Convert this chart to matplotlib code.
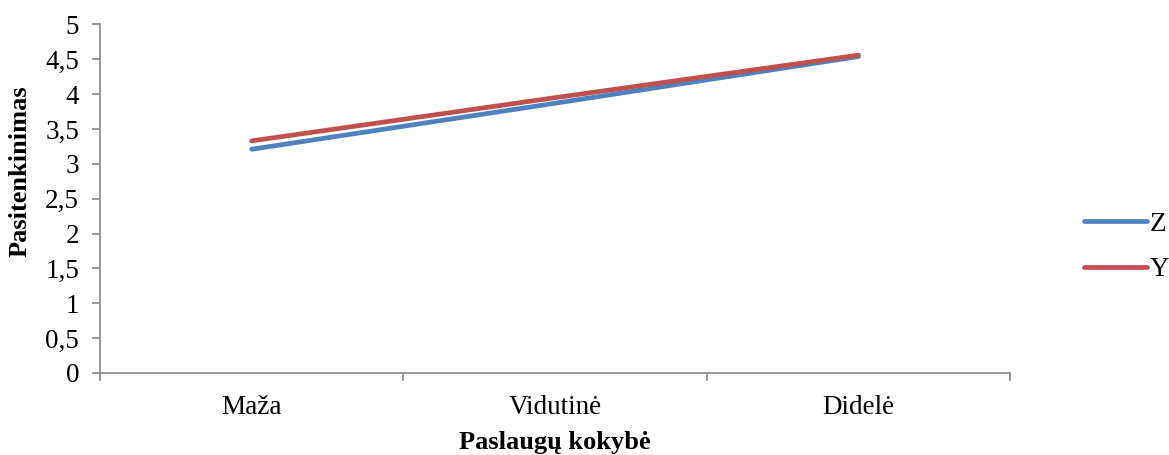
import matplotlib
matplotlib.use("Agg")
import matplotlib.pyplot as plt

# data
categories = ['Maža', 'Vidutinė', 'Didelė']
z_values = [3.21, 3.87, 4.54]
y_values = [3.33, 3.95, 4.56]
y_ticks = [0, 0.5, 1, 1.5, 2, 2.5, 3, 3.5, 4, 4.5, 5]

plt.rcParams['font.family'] = ['Liberation Serif', 'DejaVu Serif']

fig = plt.figure(figsize=(11.69, 4.55), dpi=100)
ax = fig.add_axes([100 / 1169, 82 / 455, 910 / 1169, 348.5 / 455])

x = list(range(len(categories)))
ax.plot(x, z_values, color='#4F81BD', lw=3.4, solid_capstyle='round', label='Z')
ax.plot(x, y_values, color='#C0504D', lw=3.4, solid_capstyle='round', label='Y')

ax.set_xlim(-0.5, len(categories) - 0.5)
ax.set_ylim(0, 5)
ax.set_yticks(y_ticks)
ax.set_yticklabels([str(t).replace('.', ',') if t % 1 else str(int(t)) for t in y_ticks])
ax.set_xticks(x)
ax.set_xticklabels(categories)
ax.set_xticks([i - 0.5 for i in range(len(categories) + 1)], minor=True)

for s in ['top', 'right']:
    ax.spines[s].set_visible(False)
for s in ['left', 'bottom']:
    ax.spines[s].set_color('#868686')
    ax.spines[s].set_linewidth(1.2)

ax.tick_params(axis='y', direction='out', length=6, width=1.2, color='#868686', labelsize=19.5, pad=9)
ax.tick_params(axis='x', which='major', length=0, labelsize=19.5, pad=16)
ax.tick_params(axis='x', which='minor', direction='out', length=6, width=1.2, color='#868686')

ax.set_ylabel('Pasitenkinimas', fontsize=19, fontweight='bold')
ax.yaxis.set_label_coords(-0.0747, 0.58)
ax.set_xlabel('Paslaugų kokybė', fontsize=19, fontweight='bold', labelpad=8)

ax.legend(loc='center left', bbox_to_anchor=(1.0816, 0.362), frameon=False,
          fontsize=19.5, handlelength=2.3, handletextpad=0.1, labelspacing=0.76,
          borderpad=0, borderaxespad=0)

fig.savefig('out.png', dpi=100)
